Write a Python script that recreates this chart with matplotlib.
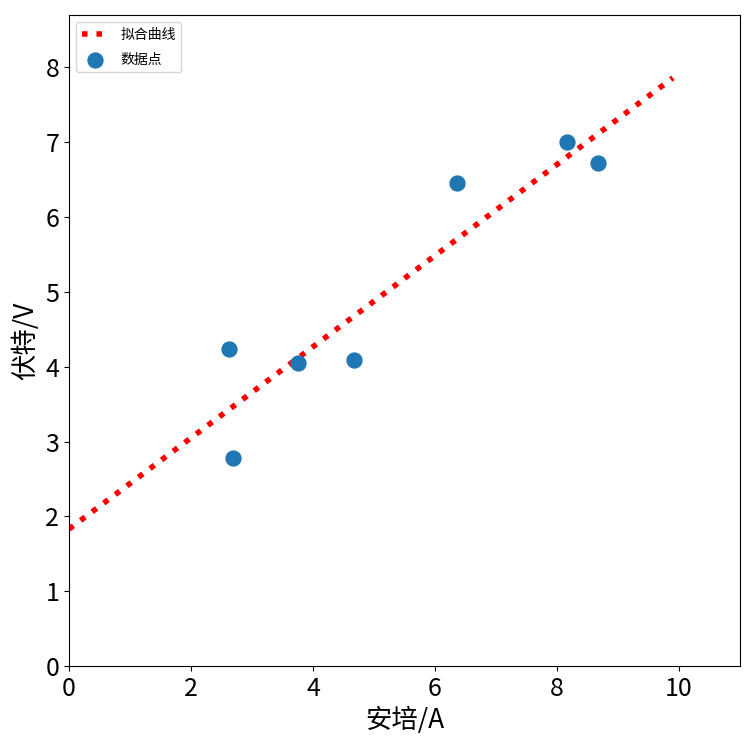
import matplotlib
matplotlib.use("Agg")
import matplotlib.pyplot as plt
import numpy as np

plt.rcParams['font.family'] = ['Noto Sans CJK SC', 'DejaVu Sans']
plt.rcParams['axes.unicode_minus'] = False

# 数据点
current = [2.62, 2.69, 3.75, 4.67, 6.36, 8.16, 8.68]
voltage = [4.23, 2.78, 4.05, 4.09, 6.46, 7.00, 6.72]

# 拟合曲线
fit_x = [0.0, 9.9]
fit_y = [1.83, 7.86]

fig = plt.figure(figsize=(7.5, 7.46), dpi=100)
ax = fig.add_axes([69 / 750, 80 / 746, 671 / 750, 651 / 746])

ax.plot(fit_x, fit_y, color='red', linestyle=(0, (1, 1.6)), linewidth=4,
        label='拟合曲线')
ax.scatter(current, voltage, s=115, color='#1f77b4', label='数据点', zorder=3)

ax.set_xlim(0, 11)
ax.set_ylim(0, 8.7)
ax.set_xticks([0, 2, 4, 6, 8, 10])
ax.set_yticks(range(9))
ax.tick_params(labelsize=18)
ax.set_xlabel('安培/A', fontsize=19)
ax.set_ylabel('伏特/V', fontsize=19)
ax.legend(loc='upper left', fontsize=10, labelspacing=0.8)

plt.savefig('out.png')
